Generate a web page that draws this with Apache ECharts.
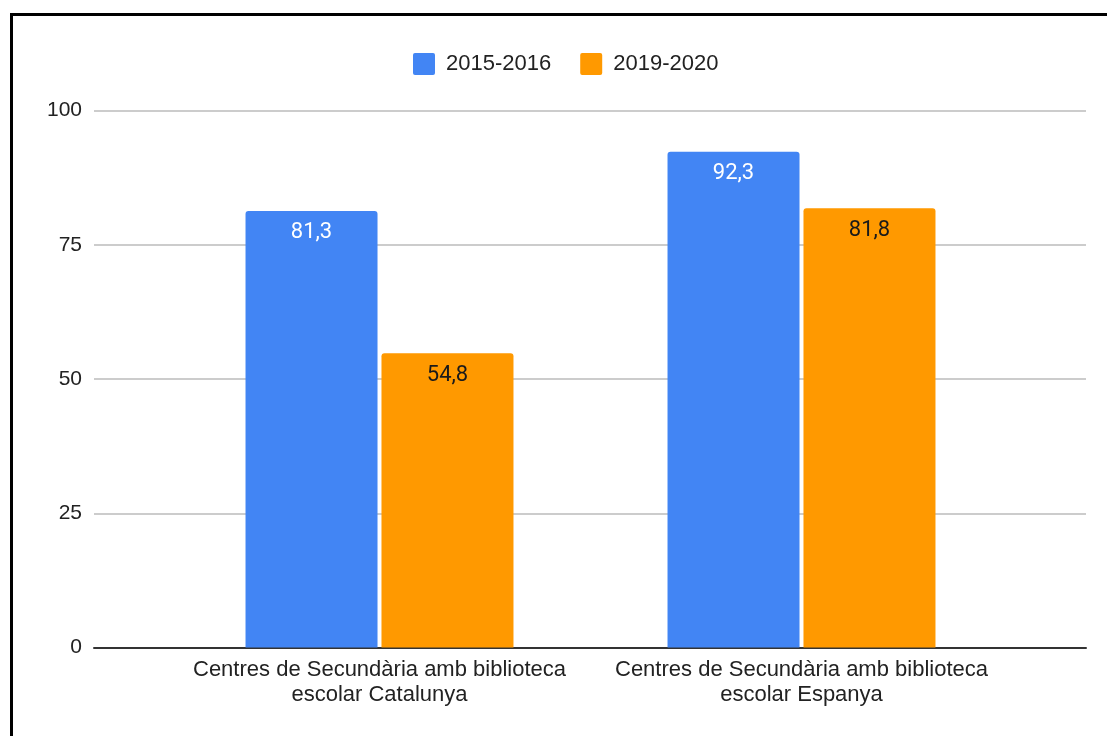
<!DOCTYPE html>
<html>
<head>
<meta charset="utf-8">
<script src="https://cdn.jsdelivr.net/npm/echarts@6/dist/echarts.min.js"></script>
<style>
  html, body { margin: 0; padding: 0; background: #ffffff; }
  #chart { width: 1107px; height: 736px; position: relative; }
  #frame {
    position: absolute; left: 10px; top: 13px; width: 1200px; height: 800px;
    border: 3px solid #000; box-sizing: border-box; pointer-events: none;
  }
</style>
</head>
<body>
<div id="chart"></div>
<div id="frame"></div>
<script>
// Categories, series and ticks
const categories = [
  'Centres de Secundària amb biblioteca\nescolar Catalunya',
  'Centres de Secundària amb biblioteca\nescolar Espanya'
];
const seriesNames = ['2015-2016', '2019-2020'];
const values2015 = [81.3, 92.3];
const values2019 = [54.8, 81.8];
const yTicks = [0, 25, 50, 75, 100];

const BLUE = '#4285F4';
const ORANGE = '#FF9900';
const FONT = '"Liberation Sans", Arial, sans-serif';

const fmt = v => String(v).replace('.', ',');

const chart = echarts.init(document.getElementById('chart'), null, { renderer: 'canvas' });

const gridTop = 110.5, gridBottom = 88.5;

chart.setOption({
  animation: false,
  backgroundColor: '#ffffff',
  legend: {
    top: 48,
    left: 408,
    itemWidth: 22,
    itemHeight: 22,
    itemGap: 29,
    icon: 'path://M2,0 L20,0 Q22,0 22,2 L22,20 Q22,22 20,22 L2,22 Q0,22 0,20 L0,2 Q0,0 2,0 Z',
    data: seriesNames,
    textStyle: { fontFamily: FONT, fontSize: 22, color: '#222', padding: [0, 0, 0, 6] }
  },
  grid: [
    // full-width grid carrying the value scale and baseline
    { left: 94, right: 21, top: gridTop, bottom: gridBottom },
    // inner grid holding the bars
    { left: 168.5, right: 94.5, top: gridTop, bottom: gridBottom }
  ],
  xAxis: [
    {
      gridIndex: 0, type: 'value', min: 0, max: 1,
      axisLine: { show: true, onZero: false, lineStyle: { color: '#333', width: 2 } },
      axisTick: { show: false }, axisLabel: { show: false }, splitLine: { show: false }
    },
    {
      gridIndex: 1, type: 'category', data: categories,
      axisLine: { show: false }, axisTick: { show: false },
      axisLabel: {
        interval: 0, margin: 10, fontFamily: FONT, fontSize: 22, lineHeight: 25,
        color: '#222', align: 'center'
      }
    }
  ],
  yAxis: [
    {
      gridIndex: 0, type: 'value', min: yTicks[0], max: yTicks[yTicks.length - 1],
      interval: yTicks[1] - yTicks[0],
      axisLine: { show: false }, axisTick: { show: false },
      axisLabel: { margin: 12, fontFamily: FONT, fontSize: 21, color: '#222' },
      splitLine: { lineStyle: { color: '#cccccc', width: 2 } }
    },
    {
      gridIndex: 1, type: 'value', min: yTicks[0], max: yTicks[yTicks.length - 1],
      show: false, splitLine: { show: false }
    }
  ],
  series: [
    {
      name: seriesNames[0], type: 'bar', xAxisIndex: 1, yAxisIndex: 1,
      data: values2015, barWidth: 132, barGap: '3%',
      itemStyle: { color: BLUE, borderRadius: [3, 3, 0, 0] },
      label: {
        show: true, position: 'insideTop', distance: 11,
        fontFamily: 'Roboto, sans-serif', fontSize: 22, color: '#ffffff',
        formatter: p => fmt(p.value)
      }
    },
    {
      name: seriesNames[1], type: 'bar', xAxisIndex: 1, yAxisIndex: 1,
      data: values2019, barWidth: 132,
      itemStyle: { color: ORANGE, borderRadius: [3, 3, 0, 0] },
      label: {
        show: true, position: 'insideTop', distance: 11,
        fontFamily: 'Roboto, sans-serif', fontSize: 22, color: '#1a1a1a',
        formatter: p => fmt(p.value)
      }
    }
  ]
});
</script>
</body>
</html>
